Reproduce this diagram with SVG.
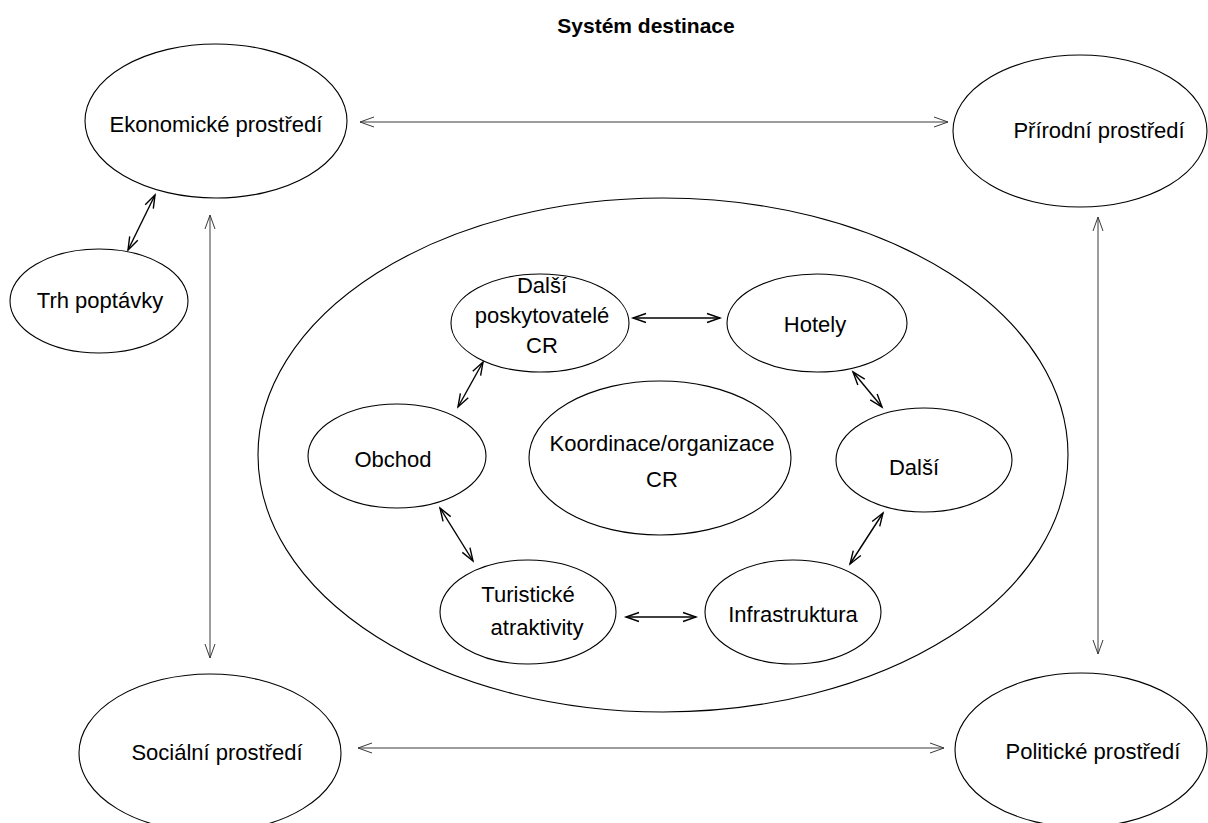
<svg xmlns="http://www.w3.org/2000/svg" width="1208" height="823" viewBox="0 0 1208 823">
  <style>
    .node ellipse { fill: #ffffff; stroke: #000000; stroke-width: 1.1; }
    .node text { font-family: "Liberation Sans", Arial, sans-serif; font-size: 22px; fill: #000000; text-anchor: middle; }
    .title { font-family: "Liberation Sans", Arial, sans-serif; font-size: 21px; font-weight: bold; fill: #000000; text-anchor: middle; }
    .outer { stroke: #3a3a3a; stroke-width: 1; fill: none; }
    .inner { stroke: #000000; stroke-width: 1.4; fill: none; }
  </style>
  <defs>
    <marker id="headOuter" markerUnits="userSpaceOnUse" markerWidth="20" markerHeight="14" viewBox="-16 -7 20 14" refX="0" refY="0" orient="auto-start-reverse">
      <path d="M-14,-5 L0,0 L-14,5" fill="none" stroke="#3a3a3a" stroke-width="1"/>
    </marker>
    <marker id="headInner" markerUnits="userSpaceOnUse" markerWidth="20" markerHeight="14" viewBox="-16 -7 20 14" refX="0" refY="0" orient="auto-start-reverse">
      <path d="M-13,-4.5 L0,0 L-13,4.5" fill="none" stroke="#000000" stroke-width="1.4"/>
    </marker>
  </defs>

  <rect width="1208" height="823" fill="#ffffff"/>

  <text class="title" x="646" y="33">Systém destinace</text>

  <!-- destination boundary -->
  <g id="system">
    <ellipse cx="663" cy="455" rx="405" ry="257" fill="none" stroke="#000000" stroke-width="1.1"/>
  </g>

  <g id="ekonomicke" class="node">
    <ellipse cx="216" cy="121" rx="131" ry="77"/>
    <text x="216" y="132">Ekonomické prostředí</text>
  </g>
  <g id="prirodni" class="node">
    <ellipse cx="1080" cy="131" rx="127" ry="76"/>
    <text x="1099" y="138">Přírodní prostředí</text>
  </g>
  <g id="socialni" class="node">
    <ellipse cx="210" cy="753" rx="131" ry="79"/>
    <text x="217" y="760">Sociální prostředí</text>
  </g>
  <g id="politicke" class="node">
    <ellipse cx="1081" cy="750" rx="126" ry="77"/>
    <text x="1093" y="759">Politické prostředí</text>
  </g>
  <g id="trh" class="node">
    <ellipse cx="99" cy="301" rx="89" ry="52"/>
    <text x="100" y="308">Trh poptávky</text>
  </g>

  <g id="dalsi-poskytovatele" class="node">
    <ellipse cx="540" cy="323" rx="89" ry="49"/>
    <text x="542" y="293">Další</text>
    <text x="542" y="323">poskytovatelé</text>
    <text x="542" y="353">CR</text>
  </g>
  <g id="hotely" class="node">
    <ellipse cx="817" cy="323" rx="90" ry="49"/>
    <text x="815" y="332">Hotely</text>
  </g>
  <g id="obchod" class="node">
    <ellipse cx="397" cy="456" rx="89" ry="52"/>
    <text x="393" y="467">Obchod</text>
  </g>
  <g id="koordinace" class="node">
    <ellipse cx="660" cy="458" rx="131" ry="77"/>
    <text x="662" y="451">Koordinace/organizace</text>
    <text x="662" y="487">CR</text>
  </g>
  <g id="dalsi" class="node">
    <ellipse cx="924" cy="460" rx="88" ry="52"/>
    <text x="914" y="475">Další</text>
  </g>
  <g id="turisticke" class="node">
    <ellipse cx="528" cy="612" rx="88" ry="52"/>
    <text x="528" y="602">Turistické</text>
    <text x="537" y="635">atraktivity</text>
  </g>
  <g id="infrastruktura" class="node">
    <ellipse cx="793" cy="612" rx="88" ry="52"/>
    <text x="793" y="622">Infrastruktura</text>
  </g>

  <g id="connectors">
    <!-- environment links -->
    <line class="outer" x1="360" y1="122" x2="948" y2="122" marker-start="url(#headOuter)" marker-end="url(#headOuter)"/>
    <line class="outer" x1="358" y1="748" x2="944" y2="748" marker-start="url(#headOuter)" marker-end="url(#headOuter)"/>
    <line class="outer" x1="210" y1="215" x2="210" y2="658" marker-start="url(#headOuter)" marker-end="url(#headOuter)"/>
    <line class="outer" x1="1098" y1="217" x2="1098" y2="654" marker-start="url(#headOuter)" marker-end="url(#headOuter)"/>
    <line class="inner" x1="128" y1="250" x2="155" y2="195" marker-start="url(#headInner)" marker-end="url(#headInner)"/>
    <!-- ring of providers -->
    <line class="inner" x1="633" y1="318" x2="720" y2="318" marker-start="url(#headInner)" marker-end="url(#headInner)"/>
    <line class="inner" x1="483" y1="362" x2="458" y2="407" marker-start="url(#headInner)" marker-end="url(#headInner)"/>
    <line class="inner" x1="853" y1="372" x2="882" y2="407" marker-start="url(#headInner)" marker-end="url(#headInner)"/>
    <line class="inner" x1="440" y1="508" x2="473" y2="561" marker-start="url(#headInner)" marker-end="url(#headInner)"/>
    <line class="inner" x1="626" y1="617" x2="696" y2="617" marker-start="url(#headInner)" marker-end="url(#headInner)"/>
    <line class="inner" x1="883" y1="513" x2="850" y2="564" marker-start="url(#headInner)" marker-end="url(#headInner)"/>
  </g>
</svg>
